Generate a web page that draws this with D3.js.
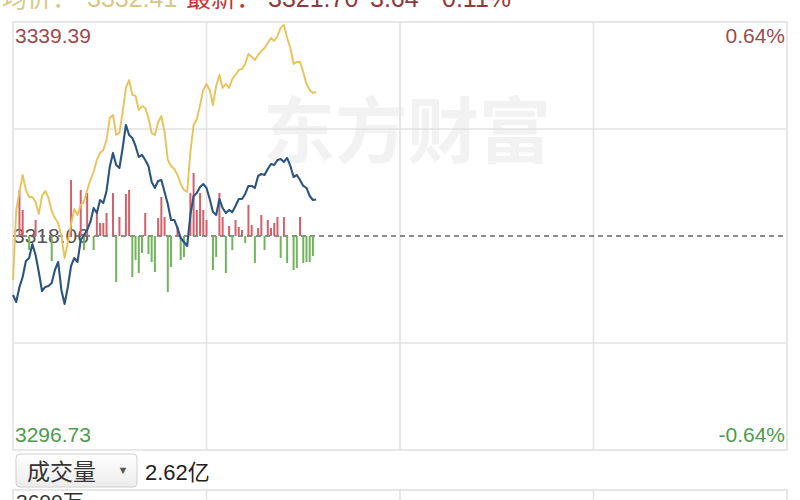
<!DOCTYPE html>
<html lang="zh">
<head>
<meta charset="utf-8">
<title>分时图</title>
<script src="https://cdnjs.cloudflare.com/ajax/libs/d3/7.8.5/d3.min.js"></script>
<style>
  body{margin:0;background:#fff;}
  svg{display:block;font-family:"Liberation Sans",Arial,"Noto Sans CJK SC",sans-serif;}
</style>
</head>
<body>
<div id="chart"></div>
<script>
// prices per minute (from 9:30)
var price = [3312.18,3311.48,3312.98,3313.97,3315.57,3315.87,3317.26,3316.17,3314.47,3312.58,
  3312.98,3313.08,3313.37,3314.67,3315.47,3312.68,3311.28,3312.98,3315.07,3315.87,
  3315.47,3317.66,3318.16,3318.66,3319.46,3320.85,3320.35,3321.65,3321.35,3322.55,
  3324.94,3326.34,3325.14,3324.84,3326.83,3329.13,3328.13,3327.83,3327.03,3325.94,
  3326.14,3325.64,3325.04,3323.44,3322.85,3323.54,3323.64,3322.45,3321.25,3319.66,
  3319.66,3318.86,3317.86,3317.46,3317.06,3320.15,3322.05,3322.35,3322.95,3323.24,
  3322.85,3321.75,3320.45,3320.15,3321.75,3320.85,3320.35,3320.65,3320.45,3321.05,
  3321.75,3321.75,3322.25,3323.05,3323.05,3322.85,3324.04,3324.24,3324.14,3324.74,
  3325.24,3325.14,3325.64,3325.74,3325.44,3325.84,3325.04,3323.94,3324.14,3323.64,
  3323.05,3322.85,3322.05,3321.65,3321.70]

var avgPrice = [3313.67,3320.65,3322.45,3324.14,3322.65,3321.95,3321.95,3321.45,3320.25,3322.05,
  3322.55,3321.85,3320.55,3319.85,3319.36,3318.06,3315.87,3317.46,3319.26,3320.75,
  3320.15,3321.15,3321.45,3322.65,3323.64,3324.44,3325.64,3326.34,3326.63,3327.63,
  3329.82,3330.12,3328.13,3328.33,3330.42,3332.82,3333.61,3332.12,3332.02,3330.62,
  3331.02,3330.82,3329.82,3328.33,3328.13,3329.43,3330.02,3328.43,3325.64,3325.04,
  3324.74,3324.14,3323.24,3322.65,3322.45,3326.43,3329.13,3329.72,3331.12,3332.62,
  3333.21,3332.62,3331.12,3333.02,3334.11,3332.82,3333.21,3332.82,3333.71,3334.11,
  3334.61,3334.71,3335.21,3336.21,3335.91,3335.61,3336.11,3336.50,3336.80,3337.30,
  3337.80,3337.50,3338.00,3338.80,3339.10,3337.80,3336.80,3335.21,3335.41,3335.41,
  3334.41,3333.21,3332.62,3332.32,3332.41]

// red / green strength bars
var strength = [0,0,46,26,0,-14,0,16,0,0,
  0,0,-25,0,0,0,0,0,56,0,
  0,46,-14,43,0,-14,23,13,13,23,
  0,43,-46,19,0,42,46,-41,-24,-37,
  -17,23,-18,-26,-36,18,39,19,-56,-31,
  0,9,-24,-21,0,43,63,26,43,26,
  16,0,-34,-21,43,19,-37,10,-14,16,
  9,6,-7,31,11,-27,8,21,-14,16,
  8,13,19,-22,19,-27,0,-34,-32,19,
  -27,-26,-26,-20,0]

var preClose = 3318.06
var yTicks = ["3339.39","3318.06","3296.73"]
var pctTicks = ["0.64%","-0.64%"]
var header = {avgLabel:"均价：",avg:"3332.41",lastLabel:"最新：",last:"3321.70",chg:"3.64",pct:"0.11%"}
var volLabel = "成交量"
var volValue = "2.62亿"
var volTick = "3600万"

var w = 800, h = 500
var pLeft = 13, pRight = 787, pTop = 22, pBottom = 450

var svg = d3.select("#chart").append("svg").attr("width",w).attr("height",h)

var xScale = d3.scaleLinear().domain([0,240]).range([pLeft,pRight])
var yScale = d3.scaleLinear().domain([+yTicks[2],+yTicks[0]]).range([pBottom,pTop])
var bScale = d3.scaleLinear().domain([-107,107]).range([343,129])

// header, cut off at the top edge
var hd = svg.append("g").attr("font-size",25)
hd.append("text").attr("x",2).attr("y",7).attr("fill","#d6c889").text(header.avgLabel)
hd.append("text").attr("x",87).attr("y",7).attr("fill","#d6c889").text(header.avg)
hd.append("text").attr("x",186).attr("y",7).attr("fill","#c9353a").text(header.lastLabel)
hd.append("text").attr("x",268).attr("y",7).attr("fill","#8e3a3e").text(header.last)
hd.append("text").attr("x",370).attr("y",7).attr("fill","#8e3a3e").text(header.chg)
hd.append("text").attr("x",442).attr("y",7).attr("fill","#8e3a3e").text(header.pct)

// watermark
svg.append("text")
  .attr("x",263).attr("y",157)
  .attr("font-size",72).attr("font-weight","bold")
  .attr("font-family","'Noto Sans CJK SC',sans-serif")
  .attr("fill","#f2f2f2")
  .text("东方财富")

// grid
var grid = svg.append("g").attr("stroke","#e2e2e2").attr("stroke-width",1.6).attr("fill","none")
grid.append("rect").attr("x",pLeft).attr("y",pTop).attr("width",pRight-pLeft).attr("height",pBottom-pTop)
grid.selectAll(".vl").data([60,120,180]).enter().append("line")
  .attr("x1",function(d){return xScale(d)}).attr("x2",function(d){return xScale(d)})
  .attr("y1",pTop).attr("y2",pBottom)
var gy = d3.scaleLinear().domain([0,4]).range([pTop,pBottom])
grid.selectAll(".hl").data([1,3]).enter().append("line")
  .attr("x1",pLeft).attr("x2",pRight)
  .attr("y1",function(d){return gy(d)}).attr("y2",function(d){return gy(d)})

// axis labels
svg.append("text").attr("x",15).attr("y",43).attr("font-size",21).attr("fill","#9a4b50").text(yTicks[0])
svg.append("text").attr("x",785).attr("y",43).attr("font-size",21).attr("fill","#9a4b50").attr("text-anchor","end").text(pctTicks[0])
svg.append("text").attr("x",15).attr("y",442).attr("font-size",21).attr("fill","#4f9a4f").text(yTicks[2])
svg.append("text").attr("x",785).attr("y",442).attr("font-size",21).attr("fill","#4f9a4f").attr("text-anchor","end").text(pctTicks[1])
svg.append("text").attr("x",13).attr("y",yScale(preClose)+7).attr("font-size",21).attr("fill","#555").text(yTicks[1])

// previous close dashed line
svg.append("line")
  .attr("x1",pLeft).attr("x2",pRight)
  .attr("y1",yScale(preClose)).attr("y2",yScale(preClose))
  .attr("stroke","#666").attr("stroke-width",1.6).attr("stroke-dasharray","5,4")

// bars
svg.selectAll(".bar").data(strength).enter().append("rect")
  .attr("x",function(d,i){return xScale(i)-1})
  .attr("width",2)
  .attr("y",function(d){return d>0 ? bScale(d) : bScale(0)})
  .attr("height",function(d){return Math.abs(bScale(d)-bScale(0))})
  .attr("fill",function(d){return d>0 ? "#d4616a" : "#72b45c"})

var line = d3.line().x(function(d,i){return xScale(i)}).y(function(d){return yScale(d)})

svg.append("path").datum(avgPrice).attr("d",line)
  .attr("fill","none").attr("stroke","#e8c25a").attr("stroke-width",1.9).attr("stroke-linejoin","round")
svg.append("path").datum(price).attr("d",line)
  .attr("fill","none").attr("stroke","#2b5480").attr("stroke-width",2.1).attr("stroke-linejoin","round")

// volume selector
var defs = svg.append("defs")
var grad = defs.append("linearGradient").attr("id","btn").attr("x1",0).attr("y1",0).attr("x2",0).attr("y2",1)
grad.append("stop").attr("offset","0%").attr("stop-color","#ffffff")
grad.append("stop").attr("offset","100%").attr("stop-color","#ececec")
svg.append("rect").attr("x",16).attr("y",454).attr("width",121).attr("height",33).attr("rx",4)
  .attr("fill","url(#btn)").attr("stroke","#d0d0d0")
svg.append("text").attr("x",27).attr("y",480).attr("font-size",23).attr("fill","#333")
  .attr("font-family","'Noto Sans CJK SC',sans-serif").text(volLabel)
svg.append("text").attr("x",123).attr("y",474).attr("font-size",11).attr("fill","#555")
  .attr("text-anchor","middle").text("▼")
svg.append("text").attr("x",145).attr("y",480).attr("font-size",22).attr("fill","#222").text(volValue)

// volume panel top, cut off
var vg = svg.append("g").attr("stroke","#e2e2e2").attr("stroke-width",1.6).attr("fill","none")
vg.append("rect").attr("x",pLeft).attr("y",490).attr("width",pRight-pLeft).attr("height",40)
vg.selectAll("line").data([60,120,180]).enter().append("line")
  .attr("x1",function(d){return xScale(d)}).attr("x2",function(d){return xScale(d)})
  .attr("y1",490).attr("y2",500)
svg.append("text").attr("x",16).attr("y",509).attr("font-size",21).attr("fill","#333").text(volTick)
</script>
</body>
</html>
